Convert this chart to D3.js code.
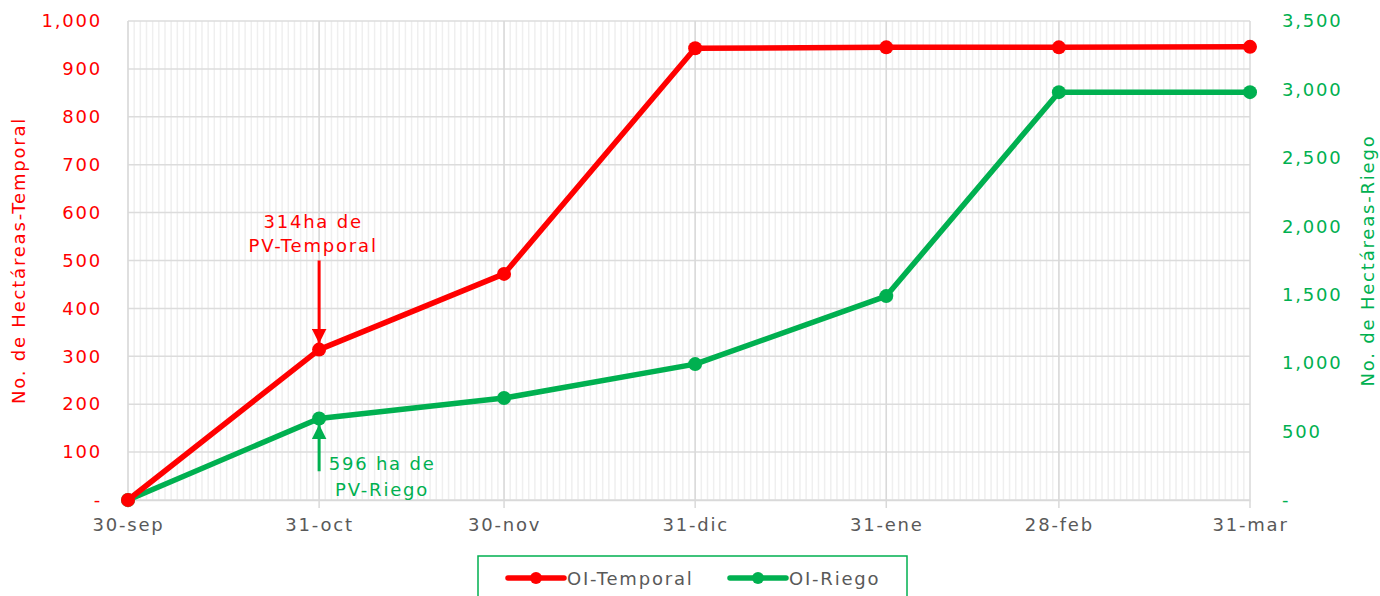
<html>
<head>
<meta charset="utf-8">
<script src="https://d3js.org/d3.v7.min.js"></script>
<style>
  body { margin: 0; background: #fff; }
  text { font-family: "DejaVu Sans", "Noto Sans", sans-serif; letter-spacing: 1.8px; }
</style>
</head>
<body>
<div id="chart"></div>
<script>
// data
const dates = ["2020-09-30", "2020-10-31", "2020-11-30", "2020-12-31", "2021-01-31", "2021-02-28", "2021-03-31"];
const tickLabels = ["30-sep", "31-oct", "30-nov", "31-dic", "31-ene", "28-feb", "31-mar"];
const temporal = [0, 314, 472, 943, 945, 945, 946];
const riego = [0, 596, 745, 993, 1490, 2980, 2980];
const leftTicks = [0, 100, 200, 300, 400, 500, 600, 700, 800, 900, 1000];
const rightTicks = [0, 500, 1000, 1500, 2000, 2500, 3000, 3500];

const red = "#ff0000", green = "#00b050";
const fs = "18px";
const W = 1380, H = 596;
const margin = {top: 21, right: 130, bottom: 96, left: 128};
const width = W - margin.left - margin.right,
      height = H - margin.top - margin.bottom;

const parse = d3.timeParse("%Y-%m-%d");
const dts = dates.map(parse);

const svg = d3.select("#chart").append("svg")
  .attr("width", W).attr("height", H);
const g = svg.append("g").attr("transform", `translate(${margin.left},${margin.top})`);

const x = d3.scaleTime().domain([dts[0], dts[dts.length - 1]]).range([0, width]);
const yL = d3.scaleLinear().domain([0, 1000]).range([height, 0]);
const yR = d3.scaleLinear().domain([0, 3500]).range([height, 0]);

// minor daily gridlines
g.append("g").selectAll("line")
  .data(d3.timeDay.range(dts[0], dts[dts.length - 1]))
  .join("line")
  .attr("x1", d => x(d)).attr("x2", d => x(d))
  .attr("y1", 0).attr("y2", height)
  .attr("stroke", "#efefef").attr("stroke-width", 1.5);

// horizontal gridlines
g.append("g").selectAll("line")
  .data(leftTicks)
  .join("line")
  .attr("x1", 0).attr("x2", width)
  .attr("y1", d => yL(d)).attr("y2", d => yL(d))
  .attr("stroke", "#dcdcdc").attr("stroke-width", 1.5);

// major gridlines at month ticks
g.append("g").selectAll("line")
  .data(dts)
  .join("line")
  .attr("x1", d => x(d)).attr("x2", d => x(d))
  .attr("y1", 0).attr("y2", height + 8)
  .attr("stroke", "#d9d9d9").attr("stroke-width", 1.5);

// x axis
const xAxis = g.append("g")
  .attr("transform", `translate(0,${height})`)
  .call(d3.axisBottom(x).tickValues(dts).tickSize(0).tickPadding(18)
    .tickFormat((d, i) => tickLabels[i]));
xAxis.select(".domain").attr("stroke", "#d9d9d9").attr("stroke-width", 1.5);
xAxis.selectAll("text").attr("fill", "#595959").style("font-size", fs);

// left axis
const lAxis = g.append("g")
  .call(d3.axisLeft(yL).tickValues(leftTicks).tickSize(0).tickPadding(26)
    .tickFormat(d => d === 0 ? "-" : d3.format(",")(d)));
lAxis.select(".domain").remove();
lAxis.selectAll("text").attr("fill", red).style("font-size", fs);

// right axis
const rAxis = g.append("g")
  .attr("transform", `translate(${width},0)`)
  .call(d3.axisRight(yR).tickValues(rightTicks).tickSize(0).tickPadding(32)
    .tickFormat(d => d === 0 ? "-" : d3.format(",")(d)));
rAxis.select(".domain").remove();
rAxis.selectAll("text").attr("fill", green).style("font-size", fs);

// axis titles
svg.append("text")
  .attr("transform", `translate(25,${margin.top + height / 2}) rotate(-90)`)
  .attr("text-anchor", "middle").attr("fill", red).style("font-size", fs)
  .text("No. de Hectáreas-Temporal");
svg.append("text")
  .attr("transform", `translate(1374,${margin.top + height / 2}) rotate(-90)`)
  .attr("text-anchor", "middle").attr("fill", green).style("font-size", fs)
  .text("No. de Hectáreas-Riego");

// series
const series = [
  {name: "OI-Temporal", vals: temporal, y: yL, color: red},
  {name: "OI-Riego", vals: riego, y: yR, color: green}
];
series.slice().reverse().forEach(s => {
  const pts = dts.map((d, i) => [x(d), s.y(s.vals[i])]);
  g.append("path")
    .attr("d", d3.line()(pts))
    .attr("fill", "none").attr("stroke", s.color)
    .attr("stroke-width", 5.5).attr("stroke-linejoin", "round");
  g.append("g").selectAll("circle")
    .data(pts).join("circle")
    .attr("cx", d => d[0]).attr("cy", d => d[1]).attr("r", 7)
    .attr("fill", s.color);
});

// annotations
const defs = svg.append("defs");
[["arR", red], ["arG", green]].forEach(([id, c]) => {
  defs.append("marker").attr("id", id)
    .attr("viewBox", "0 0 10 10").attr("refX", 10).attr("refY", 5)
    .attr("markerWidth", 5).attr("markerHeight", 5).attr("orient", "auto")
    .append("path").attr("d", "M0,0 L10,5 L0,10 z").attr("fill", c);
});
const ax = x(dts[1]);
g.append("line")
  .attr("x1", ax).attr("x2", ax)
  .attr("y1", yL(500)).attr("y2", yL(temporal[1]) - 6)
  .attr("stroke", red).attr("stroke-width", 3).attr("marker-end", "url(#arR)");
g.append("line")
  .attr("x1", ax).attr("x2", ax)
  .attr("y1", yL(60)).attr("y2", yR(riego[1]) + 6)
  .attr("stroke", green).attr("stroke-width", 3).attr("marker-end", "url(#arG)");

const tA = g.append("text").attr("text-anchor", "middle").attr("fill", red).style("font-size", fs);
tA.append("tspan").attr("x", ax - 6).attr("y", yL(580) + 6).text("314ha de");
tA.append("tspan").attr("x", ax - 6).attr("y", yL(530) + 6).text("PV-Temporal");
const tB = g.append("text").attr("text-anchor", "middle").attr("fill", green).style("font-size", fs);
tB.append("tspan").attr("x", ax + 63).attr("y", yL(75) + 6).text("596 ha de");
tB.append("tspan").attr("x", ax + 63).attr("y", yL(21) + 6).text("PV-Riego");

// legend
const lg = svg.append("g");
lg.append("rect")
  .attr("x", 478).attr("y", 556).attr("width", 429).attr("height", 48)
  .attr("fill", "#fff").attr("stroke", green).attr("stroke-width", 1.5);
const lx = [508, 730];
series.forEach((s, i) => {
  const it = lg.append("g").attr("transform", `translate(${lx[i]},578)`);
  it.append("line").attr("x1", 0).attr("x2", 56)
    .attr("stroke", s.color).attr("stroke-width", 5.5).attr("stroke-linecap", "round");
  it.append("circle").attr("cx", 28).attr("r", 6).attr("fill", s.color);
  it.append("text").attr("x", 59).attr("y", 6.5)
    .attr("fill", "#595959").style("font-size", fs).text(s.name);
});
</script>
</body>
</html>
